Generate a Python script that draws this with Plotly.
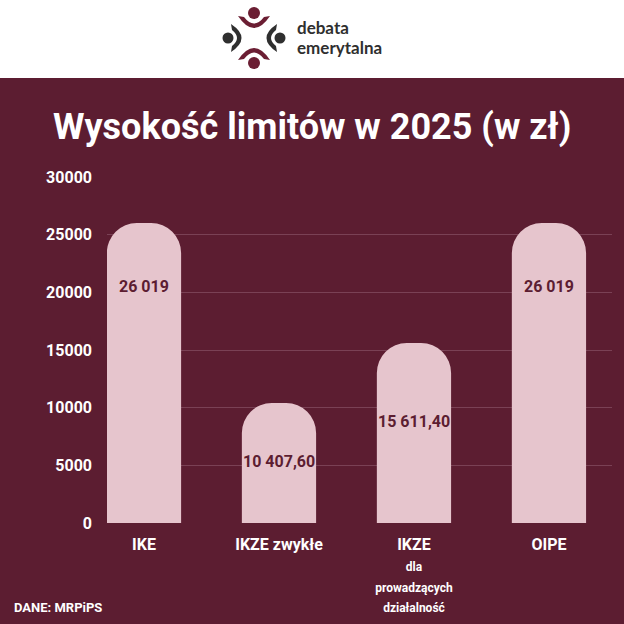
import plotly.graph_objects as go

# ---- data ----
categories = ["IKE", "IKZE zwykłe", "IKZE dla prowadzących działalność", "OIPE"]
values = [26019, 10407.60, 15611.40, 26019]
value_labels = ["26 019", "10 407,60", "15 611,40", "26 019"]
tick_text = [
    "IKE",
    "IKZE zwykłe",
    "IKZE<br><span style='font-size:12px'>dla<br>prowadzących<br>działalność</span>",
    "OIPE",
]
label_y = [20500, 5300, 8800, 20500]
y_ticks = [0, 5000, 10000, 15000, 20000, 25000, 30000]

W = H = 624
MAROON = "#5C1D31"
PINK = "#E6C5CD"


def px(x):
    return x / W


def py(y):
    return 1 - y / H


fig = go.Figure()
fig.add_trace(go.Bar(
    x=list(range(len(categories))),
    y=values,
    width=0.55,
    marker=dict(color=PINK, line=dict(width=0)),
    hoverinfo="skip",
))

for i, (v, lab, ly) in enumerate(zip(values, value_labels, label_y)):
    fig.add_annotation(x=i, y=ly, xref="x", yref="y", text=f"<b>{lab}</b>",
                       showarrow=False,
                       font=dict(family="Roboto", size=16, color=MAROON))

shapes = []
shapes.append(dict(type="rect", xref="paper", yref="paper", x0=0, x1=1,
                   y0=py(78), y1=1.0, fillcolor="white", line=dict(width=0),
                   layer="below"))


def circ(cx, cy, r, color):
    return dict(type="circle", xref="paper", yref="paper",
                x0=px(cx - r), x1=px(cx + r), y0=py(cy + r), y1=py(cy - r),
                fillcolor=color, line=dict(width=0))


def crescent(pts, color):
    (a, b, c, d, e, f) = pts
    path = (f"M {px(a[0])},{py(a[1])} Q {px(b[0])},{py(b[1])} {px(c[0])},{py(c[1])} "
            f"L {px(d[0])},{py(d[1])} Q {px(e[0])},{py(e[1])} {px(f[0])},{py(f[1])} Z")
    return dict(type="path", xref="paper", yref="paper", path=path,
                fillcolor=color, line=dict(width=0))


LOGO_M = "#6B1E33"
LOGO_D = "#2F2F2F"
shapes.append(circ(254, 13, 6, LOGO_M))
shapes.append(crescent([(238, 16), (254, 40), (270, 16), (264, 17), (254, 30), (244, 17)], LOGO_M))
shapes.append(circ(254, 63, 6, LOGO_M))
shapes.append(crescent([(238, 60), (254, 36), (270, 60), (264, 59), (254, 46), (244, 59)], LOGO_M))
shapes.append(circ(228, 38, 5.5, LOGO_D))
shapes.append(crescent([(231, 24), (252, 38), (231, 52), (232, 46), (242, 38), (232, 30)], LOGO_D))
shapes.append(circ(280, 38, 5.5, LOGO_D))
shapes.append(crescent([(277, 24), (256, 38), (277, 52), (276, 46), (266, 38), (276, 30)], LOGO_D))

annotations = [
    dict(x=px(295), y=py(28), xref="paper", yref="paper", xanchor="left", yanchor="middle",
         text="<b>debata</b>", showarrow=False,
         font=dict(family="Lato", size=17, color=LOGO_D)),
    dict(x=px(295), y=py(47.5), xref="paper", yref="paper", xanchor="left", yanchor="middle",
         text="<b>emerytalna</b>", showarrow=False,
         font=dict(family="Lato", size=17, color=LOGO_D)),
    dict(x=0.5, y=py(127), xref="paper", yref="paper", xanchor="center", yanchor="middle",
         text="<b>Wysokość limitów w 2025 (w zł)</b>", showarrow=False,
         font=dict(family="Roboto", size=36, color="white")),
    dict(x=px(12), y=py(607), xref="paper", yref="paper", xanchor="left", yanchor="middle",
         text="<b>DANE: MRPiPS</b>", showarrow=False,
         font=dict(family="Roboto", size=13, color="white")),
]
for a in annotations:
    fig.add_annotation(**a)

fig.update_layout(
    width=W, height=H,
    margin=dict(l=0, r=0, t=0, b=0, pad=0, autoexpand=False),
    paper_bgcolor=MAROON,
    plot_bgcolor=MAROON,
    showlegend=False,
    barcornerradius=30,
    shapes=shapes,
    xaxis=dict(
        domain=[px(107), px(612)],
        range=[-0.274, 3.467],
        tickmode="array",
        tickvals=list(range(len(categories))),
        ticktext=[f"<b>{t}</b>" for t in tick_text],
        tickfont=dict(family="Roboto", size=16, color="white"),
        showgrid=False, zeroline=False, showline=False, ticks="",
        ticklabelstandoff=10, automargin=False,
    ),
    yaxis=dict(
        domain=[py(523), py(177)],
        range=[0, 30000],
        tickvals=y_ticks,
        ticktext=[f"<b>{v}</b>" for v in y_ticks],
        tickfont=dict(family="Roboto", size=16, color="white"),
        showgrid=True, gridcolor="#7A4155", gridwidth=1,
        zeroline=False, showline=False, ticks="",
        ticklabelstandoff=14, automargin=False,
    ),
)

fig.write_html("out.html",
               config={"displayModeBar": False, "responsive": False},
               post_script="document.body.style.margin='0';document.body.style.padding='0';"
                           "document.body.style.overflow='hidden';window.scrollTo(0,0);")
